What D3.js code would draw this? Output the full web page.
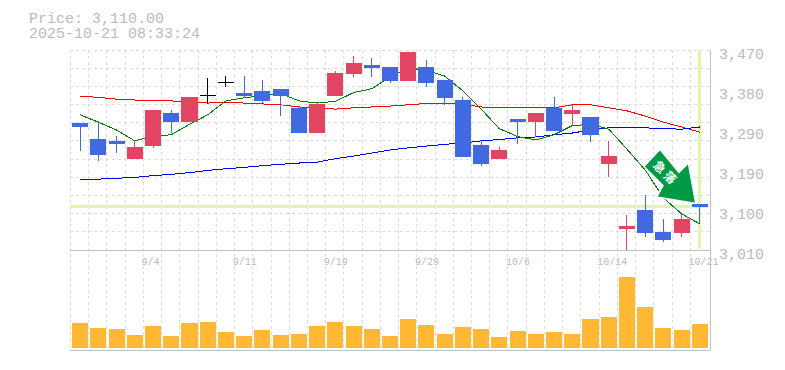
<!DOCTYPE html>
<meta charset="utf-8">
<script src="https://d3js.org/d3.v7.min.js"></script>
<style>
    body { margin: 0; background: #fff; }
    svg { display: block; }
    text { font-family: "Liberation Mono", "DejaVu Sans Mono", monospace; fill: #bbb; }
    .grid line { stroke: #ddd; stroke-dasharray: 3 3; shape-rendering: crispEdges; }
    .frame line { stroke: #c0c0c0; shape-rendering: crispEdges; }
    .ma { fill: none; stroke-width: 1; shape-rendering: crispEdges; }
    .candle line { stroke-width: 1; shape-rendering: crispEdges; }
    .candle rect, .vol rect { shape-rendering: crispEdges; }
</style>
<body>
<svg id="chart" width="785" height="370"></svg>
<script>
    var dates = ["8/29","9/1","9/2","9/3","9/4","9/5","9/8","9/9","9/10","9/11","9/12","9/16","9/17","9/18","9/19",
        "9/22","9/24","9/25","9/26","9/29","9/30","10/1","10/2","10/3","10/6","10/7","10/8","10/9","10/10",
        "10/14","10/15","10/16","10/17","10/20","10/21"];
    var dateLabels = ["9/4","9/11","9/19","9/29","10/6","10/14","10/21"];

    var open = [3302,3265,3261,3219,3249,3325,3304,3367,3396,3371,3376,3380,3337,3279,3364,3415,3436,3431,3399,3431,
        3401,3355,3252,3219,3311,3304,3337,3323,3316,3208,3058,3102,3051,3049,3116];
    var close = [3293,3229,3254,3247,3332,3304,3362,3367,3396,3364,3353,3364,3279,3346,3417,3440,3429,3399,3465,3394,
        3360,3224,3208,3240,3304,3325,3284,3332,3275,3226,3065,3049,3033,3081,3110];
    var high = [3302,3307,3272,3263,3332,3332,3362,3406,3410,3410,3401,3380,3339,3350,3422,3456,3452,3431,3465,3447,
        3401,3362,3263,3247,3311,3325,3362,3343,3316,3261,3091,3136,3081,3093,3116];
    var low = [3238,3215,3233,3219,3245,3279,3304,3345,3385,3360,3348,3318,3279,3279,3364,3408,3408,3394,3399,3385,
        3343,3224,3203,3219,3254,3270,3284,3295,3258,3178,3008,3040,3028,3040,3072];

    var maShort = [3321,3304,3286,3261,3272,3275,3299,3321,3353,3360,3365,3370,3353,3348,3352,3372,3381,3408,3429,3423,
        3410,3376,3334,3289,3271,3263,3275,3296,3299,3288,3242,3194,3130,3093,3070];
    var maMid = [3364,3361,3357,3355,3353,3353,3350,3348,3349,3348,3346,3344,3339,3337,3334,3337,3339,3341,3344,3347,
        3347,3346,3339,3337,3337,3337,3337,3344,3344,3337,3330,3318,3304,3293,3281];
    var maLong = [3173,3173,3175,3177,3181,3184,3188,3193,3197,3200,3204,3207,3210,3212,3220,3226,3233,3240,3245,3249,
        3253,3256,3261,3264,3268,3270,3275,3279,3286,3291,3291,3291,3289,3288,3293];

    var volume = [25,20,19,13,22,12,25,26,16,12,18,13,14,22,26,22,19,12,29,23,14,21,19,11,17,14,16,14,29,31,71,41,20,18,24];

    var priceTicks = [3010,3102,3194,3286,3378,3470];
    var priceLabels = ["3,010","3,100","3,190","3,290","3,380","3,470"];
    var lastPrice = 3110;

    var left = 70, right = 710, top1 = 50, bottom1 = 250, bottom2 = 350;

    var x = d3.scaleBand().domain(dates).range([left + 1, right - 1]).paddingInner(0.12).paddingOuter(0.06);
    var cx = function (d) { return x(d) + x.bandwidth() / 2; };
    var y = d3.scaleLinear().domain([3010, 3470]).range([bottom1, top1]);
    var yVol = d3.scaleLinear().domain([0, 71]).range([bottom2 - 2, 277]);

    var svg = d3.select("#chart");

    // title
    svg.append("text").attr("x", 29).attr("y", 23).style("font-size", "15px").text("Price: 3,110.00");
    svg.append("text").attr("x", 29).attr("y", 38).style("font-size", "15px").text("2025-10-21 08:33:24");

    // dotted grid, 11 rows in the price panel, one column per candle
    var grid = svg.append("g").attr("class", "grid");
    d3.range(11).forEach(function (i) {
        var gy = top1 + i * (bottom1 - top1) / 11;
        grid.append("line").attr("x1", left).attr("x2", right).attr("y1", gy).attr("y2", gy);
    });
    d3.range(35).forEach(function (i) {
        var gx = left + 0.5 + i * x.step();
        grid.append("line").attr("x1", gx).attr("x2", gx).attr("y1", top1).attr("y2", bottom2);
    });

    // last price cross hair
    svg.append("line").attr("x1", left).attr("x2", right - 2).attr("y1", y(lastPrice)).attr("y2", y(lastPrice))
        .attr("stroke", "#e4f5a8").attr("stroke-width", 3).style("shape-rendering", "crispEdges");
    svg.append("line").attr("x1", cx(dates[34])).attr("x2", cx(dates[34])).attr("y1", top1).attr("y2", bottom1 - 1)
        .attr("stroke", "#e4f5a8").attr("stroke-width", 3).style("shape-rendering", "crispEdges");

    // moving averages
    var line = d3.line().x(function (d, i) { return cx(dates[i]); }).y(function (d) { return y(d); });
    svg.append("path").attr("class", "ma").attr("stroke", "#f00").attr("d", line(maMid));
    svg.append("path").attr("class", "ma").attr("stroke", "#00f").attr("d", line(maLong));
    svg.append("path").attr("class", "ma").attr("stroke", "#008000").attr("d", line(maShort));

    // candles
    var colorOf = function (i) {
        if (close[i] > open[i]) return "#e24464";
        if (close[i] < open[i]) return "#4169e1";
        return "#000";
    };
    var candles = svg.append("g").selectAll("g").data(dates).enter().append("g").attr("class", "candle");
    candles.append("line")
        .attr("x1", function (d) { return cx(d); }).attr("x2", function (d) { return cx(d); })
        .attr("y1", function (d, i) { return y(high[i]); }).attr("y2", function (d, i) { return y(low[i]); })
        .attr("stroke", function (d, i) { return colorOf(i); });
    candles.append("rect")
        .attr("x", function (d) { return x(d); }).attr("width", x.bandwidth())
        .attr("y", function (d, i) { return y(Math.max(open[i], close[i])); })
        .attr("height", function (d, i) { return Math.max(1, Math.abs(y(open[i]) - y(close[i]))); })
        .attr("fill", function (d, i) { return colorOf(i); });

    // volume
    svg.append("g").attr("class", "vol").selectAll("rect").data(volume).enter().append("rect")
        .attr("x", function (d, i) { return x(dates[i]); }).attr("width", x.bandwidth())
        .attr("y", function (d) { return yVol(d); })
        .attr("height", function (d) { return yVol(0) - yVol(d); })
        .attr("fill", "#ffb833");

    // frame
    var frame = svg.append("g").attr("class", "frame");
    frame.append("line").attr("x1", left).attr("x2", right).attr("y1", bottom1).attr("y2", bottom1);
    frame.append("line").attr("x1", left).attr("x2", right).attr("y1", bottom2).attr("y2", bottom2);
    frame.append("line").attr("x1", right).attr("x2", right).attr("y1", top1).attr("y2", bottom2);

    // axes
    var yAxis = d3.axisRight(y).tickValues(priceTicks).tickSize(0).tickPadding(9)
        .tickFormat(function (d, i) { return priceLabels[i]; });
    var gy = svg.append("g").attr("transform", "translate(" + right + ",0)").call(yAxis);
    gy.select(".domain").remove();
    gy.attr("font-family", null);
    gy.selectAll("text").style("font-size", "15px").attr("dy", "0.55em");

    var xAxis = d3.axisBottom(x).tickValues(dateLabels).tickSize(0).tickPadding(8);
    var gx = svg.append("g").attr("transform", "translate(0," + bottom1 + ")").call(xAxis);
    gx.select(".domain").remove();
    gx.attr("font-family", null);
    gx.selectAll("text").style("font-size", "10px").attr("text-anchor", "start").attr("x", -11.5);

    // signal arrow, drawn relative to its tip
    var tipX = cx(dates[34]) - 5, tipY = y(lastPrice) - 4;
    var arrow = svg.append("g").attr("transform", "translate(" + tipX + "," + tipY + ")");
    arrow.append("polygon")
        .attr("points", "0,0 -37,-6 -31,-17 -50,-36 -35,-52 -16,-29 -7,-38")
        .attr("fill", "#009944").attr("stroke", "#fff").attr("stroke-width", 3).attr("stroke-linejoin", "round")
        .style("paint-order", "stroke");
    arrow.append("text").attr("transform", "translate(-29,-29) rotate(45)")
        .attr("text-anchor", "middle").attr("dy", "0.36em")
        .style("font-family", "'Noto Sans CJK JP'").style("font-size", "12px").style("font-weight", "700")
        .style("fill", "#fff").style("letter-spacing", "3px").text("急落");
</script>
</body>
